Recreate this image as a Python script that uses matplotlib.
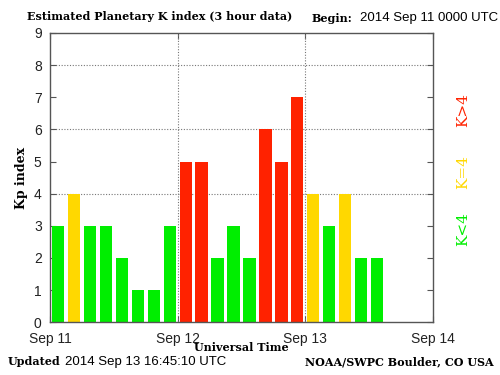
import matplotlib
matplotlib.use("Agg")
import matplotlib.pyplot as plt
import numpy as np

kp_values = [3, 4, 3, 3, 2, 1, 1, 3,
             5, 5, 2, 3, 2, 6, 5, 7,
             4, 3, 4, 2, 2]
day_labels = ["Sep 11", "Sep 12", "Sep 13", "Sep 14"]
y_ticks = list(range(0, 10))

GREEN = "#00ee00"
YELLOW = "#ffd800"
RED = "#ff2200"

def color_for(k):
    if k < 4:
        return GREEN
    if k == 4:
        return YELLOW
    return RED

SERIF = "DejaVu Serif"
SANS = "Liberation Sans"

fig = plt.figure(figsize=(5, 3.75), dpi=100)
ax = fig.add_axes([0.1, 0.141, 0.766, 0.771])

hours = np.arange(len(kp_values)) * 3 + 1.5
ax.bar(hours, kp_values, width=2.3, color=[color_for(k) for k in kp_values],
       zorder=2, linewidth=0)

ax.set_xlim(0, 72)
ax.set_ylim(0, 9)
ax.set_xticks([0, 24, 48, 72])
ax.set_xticklabels(day_labels, family=SANS, fontsize=10, color="#222222")
ax.set_yticks(y_ticks)
ax.set_yticklabels([str(v) for v in y_ticks], family=SANS, fontsize=10, color="#222222")
ax.set_xticks(hours, minor=True)
ax.tick_params(axis="x", which="minor", direction="in", length=3, color="#dddddd", width=0.8)
ax.tick_params(axis="both", which="major", direction="in", length=4, color="#555555",
               right=True, top=True, pad=6)
ax.tick_params(axis="x", which="major", pad=7)

for y in [4, 6, 8]:
    ax.axhline(y, color="#777777", linestyle=(0, (1, 1.5)), linewidth=0.8, zorder=1)
for x in [24, 48]:
    ax.axvline(x, color="#777777", linestyle=(0, (1, 1.5)), linewidth=0.8, zorder=3)

for s in ax.spines.values():
    s.set_color("#555555")
    s.set_linewidth(1.0)

ax.set_xlabel("Universal Time", family=SERIF, fontweight="bold", fontsize=8)
ax.xaxis.set_label_coords(0.5, -0.07)
ax.set_ylabel("Kp index", family=SERIF, fontweight="bold", fontsize=9, labelpad=4)

fig.text(0.054, 0.955, "Estimated Planetary K index (3 hour data)", family=SERIF,
         fontweight="bold", fontsize=8, ha="left", va="center")
fig.text(0.624, 0.952, "Begin:", family=SERIF, fontweight="bold", fontsize=8,
         ha="left", va="center")
fig.text(0.72, 0.952, "2014 Sep 11 0000 UTC", family=SANS, fontsize=9.5,
         ha="left", va="center")

fig.text(0.016, 0.035, "Updated", family=SERIF, fontweight="bold", fontsize=8,
         ha="left", va="center")
fig.text(0.13, 0.035, "2014 Sep 13 16:45:10 UTC", family=SANS, fontsize=9.5,
         ha="left", va="center")
fig.text(0.988, 0.035, "NOAA/SWPC Boulder, CO USA", family=SERIF, fontweight="bold",
         fontsize=8, ha="right", va="center")

fig.text(0.926, 0.707, "K>4", family=SERIF, fontsize=11, color=RED, rotation=90,
         ha="center", va="center")
fig.text(0.926, 0.54, "K=4", family=SERIF, fontsize=11, color=YELLOW, rotation=90,
         ha="center", va="center")
fig.text(0.926, 0.39, "K<4", family=SERIF, fontsize=11, color=GREEN, rotation=90,
         ha="center", va="center")

fig.savefig("out.png", dpi=100)
